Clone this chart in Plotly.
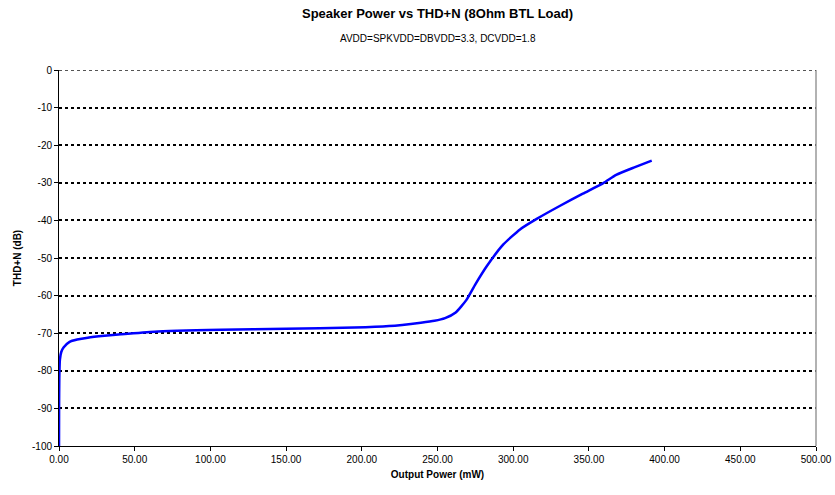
import plotly.graph_objects as go

# Output power (mW) and THD+N (dB)
power_mw = [0.0, 0.05, 0.2, 0.6, 1.5, 3.0, 7.0, 12.0, 19.0, 30.0, 41.0, 63.0, 107.0,
            150.0, 195.0, 218.0, 239.0, 248.0, 255.0, 262.0, 269.0, 275.0, 282.5,
            293.5, 304.5, 315.5, 331.0, 346.0, 359.5, 368.0, 380.0, 391.5]
thd_db = [-100.0, -90.0, -82.0, -77.0, -75.0, -73.8, -72.3, -71.7, -71.2, -70.7, -70.3,
          -69.6, -69.1, -68.8, -68.5, -68.1, -67.2, -66.7, -66.0, -64.5, -61.2, -57.0,
          -52.2, -46.4, -42.4, -39.6, -36.1, -32.9, -30.1, -27.9, -25.9, -24.1]

x_ticks = [0, 50, 100, 150, 200, 250, 300, 350, 400, 450, 500]
y_ticks = [0, -10, -20, -30, -40, -50, -60, -70, -80, -90, -100]
y_tick_labels = ["0", "-10", "-20", "-30", "-40", "-50", "-60", "-70", "-80", "-90", "-100"]

title_text = "Speaker Power vs THD+N (8Ohm BTL Load)"
subtitle_text = "AVDD=SPKVDD=DBVDD=3.3, DCVDD=1.8"
x_title = "Output Power (mW)"
y_title = "THD+N (dB)"

FONT = "Liberation Sans, Arial, sans-serif"

fig = go.Figure()
fig.add_trace(go.Scatter(
    x=power_mw, y=thd_db, mode="lines",
    line=dict(color="#0000FF", width=2.5, shape="spline", smoothing=0.5),
    showlegend=False, hoverinfo="x+y",
))

fig.update_layout(
    width=835, height=495,
    margin=dict(l=59, r=19, t=70, b=49),
    paper_bgcolor="white", plot_bgcolor="white",
    font=dict(family=FONT, size=11, color="black"),
    showlegend=False,
    annotations=[
        dict(text="<b>" + title_text + "</b>", xref="paper", yref="paper",
             x=0.5, y=1, yshift=57, showarrow=False, xanchor="center", yanchor="middle",
             font=dict(family=FONT, size=13, color="black")),
        dict(text=subtitle_text, xref="paper", yref="paper",
             x=0.5, y=1, yshift=32, showarrow=False, xanchor="center", yanchor="middle",
             font=dict(family=FONT, size=10, color="black")),
    ],
    shapes=[
        dict(type="line", xref="paper", yref="paper", x0=1, x1=1, y0=0, y1=1,
             line=dict(color="#999999", width=1.5)),
        dict(type="line", xref="paper", yref="y", x0=0, x1=1, y0=y_ticks[0], y1=y_ticks[0],
             line=dict(color="#555555", width=2, dash="3px,3px")),
    ],
)

fig.update_xaxes(
    range=[0, 500], tickvals=x_ticks, tickformat=".2f",
    showgrid=False, zeroline=False, automargin=False,
    showline=True, linecolor="black", linewidth=1,
    ticks="outside", ticklen=4, tickcolor="black",
    tickfont=dict(family=FONT, size=10),
    title=dict(text="<b>" + x_title + "</b>", font=dict(family=FONT, size=10), standoff=6),
    fixedrange=True,
)
fig.update_yaxes(
    range=[-100, 0], tickvals=y_ticks, ticktext=y_tick_labels,
    showgrid=True, gridcolor="black", gridwidth=2, griddash="3px,3px",
    zeroline=False, automargin=False,
    showline=True, linecolor="black", linewidth=1,
    ticks="outside", ticklen=4, tickcolor="black",
    tickfont=dict(family=FONT, size=10),
    title=dict(text="<b>" + y_title + "</b>", font=dict(family=FONT, size=10), standoff=8),
    fixedrange=True,
)

fig.write_html(
    "out.html",
    config={"displayModeBar": False},
    post_script="document.body.style.margin='0';document.body.style.overflow='hidden';",
)
